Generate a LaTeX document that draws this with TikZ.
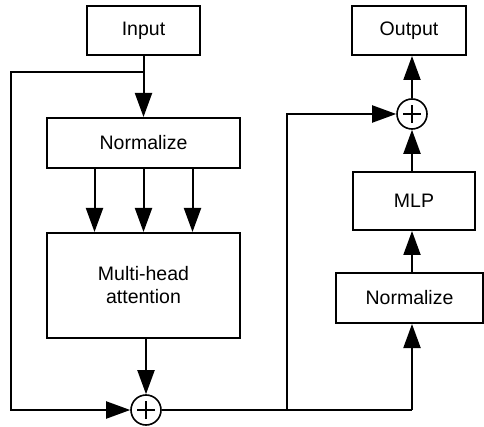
\documentclass[tikz,border=0pt]{standalone}
\usepackage{fontspec}
\setmainfont{Liberation Sans}
\usetikzlibrary{arrows.meta,calc}
\begin{document}
\begin{tikzpicture}[x=1pt,y=-1pt,
  box/.style={draw,line width=2pt,rectangle,inner sep=0pt,font=\fontsize{19.5}{23}\selectfont,align=center},
  plusnode/.style={draw,line width=1.6pt,circle,minimum size=30pt,inner sep=0pt,
    path picture={\draw[line width=1.6pt] ([xshift=-9pt]path picture bounding box.center) -- ([xshift=9pt]path picture bounding box.center);
                  \draw[line width=1.6pt] ([yshift=-9pt]path picture bounding box.center) -- ([yshift=9pt]path picture bounding box.center);}},
  conn/.style={line width=2pt},
  arr/.style={conn,-{Triangle[length=24pt,width=17pt]}}]
\useasboundingbox (0,0) rectangle (484,427);
\node[box,minimum width=113pt,minimum height=49pt] (input) at (143.5,30.5) {Input};
\node[box,minimum width=193pt,minimum height=50pt] (norm1) at (143.5,143) {Normalize};
\node[box,minimum width=193pt,minimum height=105pt] (mha) at (143.5,285.5) {Multi-head\\attention};
\node[plusnode] (plus1) at (146,410) {};
\node[box,minimum width=114pt,minimum height=49pt] (output) at (409,30.5) {Output};
\node[plusnode] (plus2) at (412,114) {};
\node[box,minimum width=122pt,minimum height=58pt] (mlp) at (414,201) {MLP};
\node[box,minimum width=147pt,minimum height=50pt] (norm2) at (409.5,298) {Normalize};
\coordinate (br1) at (143.5,72);
\coordinate (left) at (11,72);
\coordinate (br2) at (287,410);
\coordinate (corner) at (412,410);
% input to norm1
\draw[conn] (input.south) -- (br1);
\draw[arr] (br1) -- (norm1.north);
% residual left
\draw[arr] (br1) -- (left) -- (left |- plus1) -- (plus1.west);
% norm1 to mha
\draw[arr] ($(norm1.south)+(-49,0)$) -- ($(mha.north)+(-49,0)$);
\draw[arr] (norm1.south) -- (mha.north);
\draw[arr] ($(norm1.south)+(49,0)$) -- ($(mha.north)+(49,0)$);
% mha to plus1
\draw[arr] (mha.south -| plus1) -- (plus1.north);
% plus1 to right
\draw[conn] (plus1.east) -- (br2) -- (corner);
\draw[arr] (corner) -- (corner |- norm2.south);
\draw[arr] (br2) -- (br2 |- plus2) -- (plus2.west);
% right column
\draw[arr] (norm2.north -| corner) -- (mlp.south -| corner);
\draw[arr] (mlp.north -| corner) -- (plus2.south);
\draw[arr] (plus2.north) -- (output.south -| plus2);
\end{tikzpicture}
\end{document}
